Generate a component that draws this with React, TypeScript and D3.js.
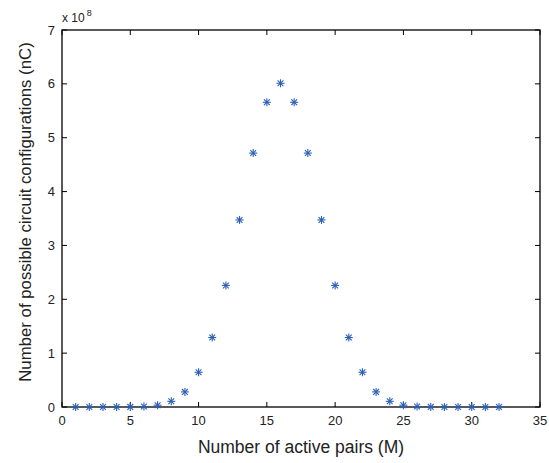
import React from "react";
import * as d3 from "d3";

// number of active pairs M and number of configurations nC (x 1e8)
const pairs = [1, 2, 3, 4, 5, 6, 7, 8, 9, 10, 11, 12, 13, 14, 15, 16,
  17, 18, 19, 20, 21, 22, 23, 24, 25, 26, 27, 28, 29, 30, 31, 32];
const configs = [
  0.00000032, 0.00000496, 0.0000496, 0.00035960, 0.00201376, 0.00906192,
  0.03365856, 0.10518300, 0.28048800, 0.64512240, 1.29024480, 2.25792840,
  3.47373600, 4.71435600, 5.65722720, 6.01080390, 5.65722720, 4.71435600,
  3.47373600, 2.25792840, 1.29024480, 0.64512240, 0.28048800, 0.10518300,
  0.03365856, 0.00906192, 0.00201376, 0.00035960, 0.0000496, 0.00000496,
  0.00000032, 0.00000001,
];
const xTicks = [0, 5, 10, 15, 20, 25, 30, 35];
const yTicks = [0, 1, 2, 3, 4, 5, 6, 7];

const W = 549;
const H = 463;
const m = { left: 62, right: 9, top: 30, bottom: 56 };
const font = "'Liberation Sans', Arial, sans-serif";
const blue = "#2a5fb8";

export default function App() {
  const x = d3.scaleLinear().domain([0, 35]).range([m.left, W - m.right]);
  const y = d3.scaleLinear().domain([0, 7]).range([H - m.bottom, m.top]);
  const x0 = x.range()[0], x1 = x.range()[1];
  const y0 = y.range()[0], y1 = y.range()[1];
  const tk = 5;
  const r = 4;

  return (
    <svg width={W} height={H} style={{ position: "absolute", left: 0, top: 0, background: "#fff" }}>
      {/* ticks */}
      {xTicks.map((t) => (
        <g key={"x" + t}>
          <line x1={x(t)} x2={x(t)} y1={y0} y2={y0 - tk} stroke="#000" />
          <line x1={x(t)} x2={x(t)} y1={y1} y2={y1 + tk} stroke="#000" />
          <text x={x(t)} y={y0 + 18} textAnchor="middle" fontSize={13} fontFamily={font} fill="#222">{t}</text>
        </g>
      ))}
      {yTicks.map((t) => (
        <g key={"y" + t}>
          <line x1={x0} x2={x0 + tk} y1={y(t)} y2={y(t)} stroke="#000" />
          <line x1={x1} x2={x1 - tk} y1={y(t)} y2={y(t)} stroke="#000" />
          <text x={x0 - 7} y={y(t) + 4.5} textAnchor="end" fontSize={13} fontFamily={font} fill="#222">{t}</text>
        </g>
      ))}
      <rect x={x0} y={y1} width={x1 - x0} height={y0 - y1} fill="none" stroke="#000" strokeWidth={1.3} />

      {/* exponent */}
      <text x={x0} y={y1 - 8} fontSize={12} fontFamily={font} fill="#222">
        x 10<tspan dx={2} dy={-6} fontSize={9}>8</tspan>
      </text>

      {/* asterisk markers */}
      {pairs.map((p, i) => {
        const cx = x(p), cy = y(configs[i]);
        const d = r * 0.72;
        return (
          <g key={p} stroke={blue} strokeWidth={1.1}>
            <line x1={cx - r} x2={cx + r} y1={cy} y2={cy} />
            <line x1={cx} x2={cx} y1={cy - r} y2={cy + r} />
            <line x1={cx - d} x2={cx + d} y1={cy - d} y2={cy + d} />
            <line x1={cx - d} x2={cx + d} y1={cy + d} y2={cy - d} />
          </g>
        );
      })}

      {/* axis labels */}
      <text x={(x0 + x1) / 2} y={H - 10} textAnchor="middle" fontSize={17.5} fontFamily={font} fill="#222">
        Number of active pairs (M)
      </text>
      <text transform={`translate(${31},${212}) rotate(-90)`} textAnchor="middle" fontSize={16.8} fontFamily={font} fill="#222">
        Number of possible circuit configurations (nC)
      </text>
    </svg>
  );
}
